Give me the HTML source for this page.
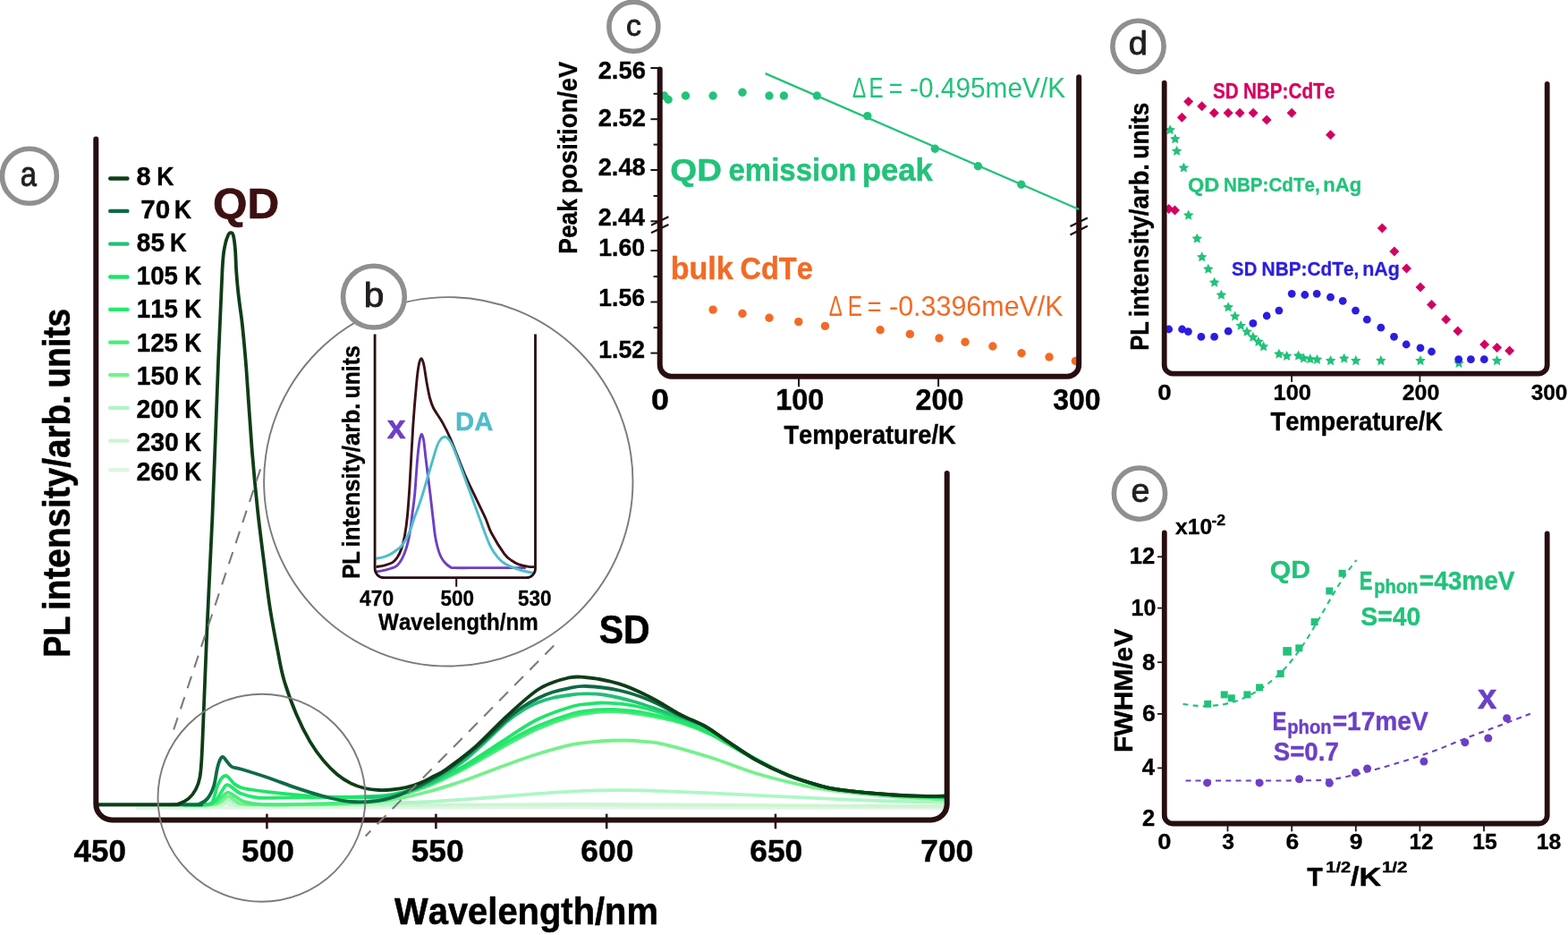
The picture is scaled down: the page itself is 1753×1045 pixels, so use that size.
<!DOCTYPE html>
<html lang="en">
<head>
<meta charset="utf-8">
<title>Temperature dependent photoluminescence</title>
<style>
html,body{margin:0;padding:0;background:#fff;}
body{width:1753px;height:1045px;overflow:hidden;}
svg{display:block;}
svg text{font-family:"Liberation Sans",sans-serif;font-kerning:none;}
</style>
</head>
<body>
<svg width="1753" height="1045" viewBox="0 0 1753 1045">
<rect width="1753" height="1045" fill="#fff"/>
<g id="panel-a">
<g fill="none" stroke-width="3.8" stroke-linejoin="round">
<path d="M152.00,903.20C176.67,903.13 253.67,902.95 300.00,902.80C346.33,902.65 380.00,902.40 430.00,902.30C480.00,902.20 538.33,902.15 600.00,902.20C661.67,902.25 724.00,902.47 800.00,902.60C876.00,902.73 1013.33,902.93 1056.00,903.00" stroke="#e0f6e2"/>
<path d="M200.00,901.20C207.33,901.10 235.00,901.20 244.00,900.60C253.00,900.00 250.67,897.63 254.00,897.60C257.33,897.57 251.33,899.97 264.00,900.40C276.67,900.83 299.00,900.30 330.00,900.20C361.00,900.10 396.67,900.00 450.00,899.80C503.33,899.60 591.67,899.03 650.00,899.00C708.33,898.97 751.67,899.33 800.00,899.60C848.33,899.87 897.33,900.37 940.00,900.60C982.67,900.83 1036.67,900.93 1056.00,901.00" stroke="#cff4d2"/>
<path d="M240.00,899.50C241.33,899.08 245.50,897.88 248.00,897.00C250.50,896.12 252.67,894.20 255.00,894.20C257.33,894.20 259.17,896.17 262.00,897.00C264.83,897.83 260.67,898.82 272.00,899.20C283.33,899.58 308.67,899.40 330.00,899.30C351.33,899.20 376.67,899.07 400.00,898.60C423.33,898.13 446.67,897.60 470.00,896.50C493.33,895.40 518.33,893.55 540.00,892.00C561.67,890.45 581.22,888.55 600.00,887.20C618.78,885.85 636.57,884.57 652.70,883.90C668.83,883.23 682.25,883.15 696.80,883.20C711.35,883.25 723.63,883.67 740.00,884.20C756.37,884.73 775.00,885.50 795.00,886.40C815.00,887.30 835.83,888.45 860.00,889.60C884.17,890.75 916.67,892.32 940.00,893.30C963.33,894.28 980.67,894.92 1000.00,895.50C1019.33,896.08 1046.67,896.58 1056.00,896.80" stroke="#adf6c6"/>
<path d="M205.00,899.40C210.17,899.38 229.17,899.78 236.00,899.30C242.83,898.82 242.83,898.02 246.00,896.50C249.17,894.98 252.00,890.37 255.00,890.20C258.00,890.03 260.67,894.07 264.00,895.50C267.33,896.93 264.00,898.22 275.00,898.80C286.00,899.38 309.17,899.22 330.00,899.00C350.83,898.78 381.67,898.42 400.00,897.50C418.33,896.58 426.67,895.67 440.00,893.50C453.33,891.33 466.67,888.08 480.00,884.50C493.33,880.92 506.67,876.58 520.00,872.00C533.33,867.42 546.67,861.83 560.00,857.00C573.33,852.17 586.67,847.15 600.00,843.00C613.33,838.85 628.33,834.52 640.00,832.10C651.67,829.68 660.53,829.27 670.00,828.50C679.47,827.73 688.47,827.45 696.80,827.50C705.13,827.55 712.25,828.03 720.00,828.80C727.75,829.57 730.80,829.10 743.30,832.10C755.80,835.10 777.78,841.35 795.00,846.80C812.22,852.25 829.38,859.63 846.60,864.80C863.82,869.97 882.73,874.48 898.30,877.80C913.87,881.12 923.05,882.58 940.00,884.70C956.95,886.82 980.67,889.03 1000.00,890.50C1019.33,891.97 1046.67,893.00 1056.00,893.50" stroke="#76f08c"/>
<path d="M205.00,899.40C209.50,899.37 225.67,899.85 232.00,899.20C238.33,898.55 240.00,897.20 243.00,895.50C246.00,893.80 247.98,890.65 250.00,889.00C252.02,887.35 253.10,885.52 255.10,885.60C257.10,885.68 258.98,887.77 262.00,889.50C265.02,891.23 268.08,894.38 273.20,896.00C278.32,897.62 281.57,898.73 292.70,899.20C303.83,899.67 322.12,899.25 340.00,898.80C357.88,898.35 383.33,897.88 400.00,896.50C416.67,895.12 426.67,893.58 440.00,890.50C453.33,887.42 466.67,883.33 480.00,878.00C493.33,872.67 506.67,865.50 520.00,858.50C533.33,851.50 546.67,843.25 560.00,836.00C573.33,828.75 586.67,820.92 600.00,815.00C613.33,809.08 629.17,803.63 640.00,800.50C650.83,797.37 656.67,797.07 665.00,796.20C673.33,795.33 680.83,794.83 690.00,795.30C699.17,795.77 708.33,796.97 720.00,799.00C731.67,801.03 747.50,803.83 760.00,807.50C772.50,811.17 783.33,815.50 795.00,821.00C806.67,826.50 815.67,832.90 830.00,840.50C844.33,848.10 866.75,860.38 881.00,866.60C895.25,872.82 905.67,875.08 915.50,877.80C925.33,880.52 925.92,881.07 940.00,882.90C954.08,884.73 980.67,887.37 1000.00,888.80C1019.33,890.23 1046.67,891.05 1056.00,891.50" stroke="#4aec7b"/>
<path d="M205.00,899.40C209.17,899.37 224.17,899.77 230.00,899.20C235.83,898.63 237.17,898.20 240.00,896.00C242.83,893.80 244.80,889.12 247.00,886.00C249.20,882.88 251.03,878.22 253.20,877.30C255.37,876.38 257.48,878.98 260.00,880.50C262.52,882.02 263.67,884.57 268.30,886.40C272.93,888.23 278.03,890.67 287.80,891.50C297.57,892.33 313.20,891.48 326.90,891.40C340.60,891.32 356.15,891.20 370.00,891.00C383.85,890.80 398.33,890.78 410.00,890.20C421.67,889.62 428.33,889.87 440.00,887.50C451.67,885.13 466.67,881.17 480.00,876.00C493.33,870.83 506.67,863.67 520.00,856.50C533.33,849.33 546.67,840.42 560.00,833.00C573.33,825.58 586.67,817.92 600.00,812.00C613.33,806.08 629.17,800.58 640.00,797.50C650.83,794.42 657.33,794.25 665.00,793.50C672.67,792.75 676.83,792.50 686.00,793.00C695.17,793.50 707.67,794.25 720.00,796.50C732.33,798.75 747.50,802.50 760.00,806.50C772.50,810.50 783.33,814.83 795.00,820.50C806.67,826.17 815.67,832.82 830.00,840.50C844.33,848.18 866.75,860.38 881.00,866.60C895.25,872.82 905.67,875.08 915.50,877.80C925.33,880.52 925.92,881.07 940.00,882.90C954.08,884.73 980.67,887.45 1000.00,888.80C1019.33,890.15 1046.67,890.63 1056.00,891.00" stroke="#27e86d"/>
<path d="M205.00,899.40C208.83,899.37 222.67,899.60 228.00,899.20C233.33,898.80 234.50,900.45 237.00,897.00C239.50,893.55 241.17,883.08 243.00,878.50C244.83,873.92 246.38,871.42 248.00,869.50C249.62,867.58 251.20,866.83 252.70,867.00C254.20,867.17 255.37,868.90 257.00,870.50C258.63,872.10 259.97,874.85 262.50,876.60C265.03,878.35 266.35,879.62 272.20,881.00C278.05,882.38 286.87,883.60 297.60,884.90C308.33,886.20 324.57,887.83 336.60,888.80C348.63,889.77 357.57,890.33 369.80,890.70C382.03,891.07 398.30,891.37 410.00,891.00C421.70,890.63 428.33,891.00 440.00,888.50C451.67,886.00 466.67,881.50 480.00,876.00C493.33,870.50 506.67,863.25 520.00,855.50C533.33,847.75 546.67,838.00 560.00,829.50C573.33,821.00 586.67,811.17 600.00,804.50C613.33,797.83 630.00,792.50 640.00,789.50C650.00,786.50 654.00,787.15 660.00,786.50C666.00,785.85 667.67,785.18 676.00,785.60C684.33,786.02 697.67,786.52 710.00,789.00C722.33,791.48 736.67,795.75 750.00,800.50C763.33,805.25 776.67,810.83 790.00,817.50C803.33,824.17 814.83,832.32 830.00,840.50C845.17,848.68 866.75,860.38 881.00,866.60C895.25,872.82 905.67,875.08 915.50,877.80C925.33,880.52 925.92,881.07 940.00,882.90C954.08,884.73 980.67,887.48 1000.00,888.80C1019.33,890.12 1046.67,890.47 1056.00,890.80" stroke="#1fe469"/>
<path d="M410.00,891.00C415.00,890.58 428.33,891.08 440.00,888.50C451.67,885.92 467.50,881.42 480.00,875.50C492.50,869.58 505.00,860.33 515.00,853.00C525.00,845.67 531.40,839.25 540.00,831.50C548.60,823.75 559.10,812.83 566.60,806.50C574.10,800.17 579.25,797.03 585.00,793.50C590.75,789.97 595.60,787.55 601.10,785.30C606.60,783.05 612.27,781.38 618.00,780.00C623.73,778.62 629.72,777.77 635.50,777.00C641.28,776.23 646.12,775.48 652.70,775.40C659.28,775.32 665.45,774.98 675.00,776.50C684.55,778.02 697.50,780.92 710.00,784.50C722.50,788.08 736.98,793.33 750.00,798.00C763.02,802.67 777.73,807.50 788.10,812.50C798.47,817.50 802.45,821.72 812.20,828.00C821.95,834.28 835.12,843.77 846.60,850.20C858.08,856.63 869.62,862.00 881.10,866.60C892.58,871.20 905.68,875.08 915.50,877.80C925.32,880.52 925.92,881.10 940.00,882.90C954.08,884.70 980.67,887.33 1000.00,888.60C1019.33,889.87 1046.67,890.18 1056.00,890.50" stroke="#21c176"/>
<path d="M108.00,899.30C125.83,899.30 195.83,899.42 215.00,899.30C234.17,899.18 220.13,899.78 223.00,898.60C225.87,897.42 229.53,895.53 232.20,892.20C234.87,888.87 237.22,884.13 239.00,878.60C240.78,873.07 241.75,863.88 242.90,859.00C244.05,854.12 244.83,851.47 245.90,849.30C246.97,847.13 247.85,845.52 249.30,846.00C250.75,846.48 252.90,850.35 254.60,852.20C256.30,854.05 256.93,855.83 259.50,857.10C262.07,858.37 263.15,857.73 270.00,859.80C276.85,861.87 290.38,866.03 300.60,869.50C310.82,872.97 321.08,877.18 331.30,880.60C341.52,884.02 352.95,887.57 361.90,890.00C370.85,892.43 378.65,894.15 385.00,895.20C391.35,896.25 395.00,896.20 400.00,896.30C405.00,896.40 410.00,896.25 415.00,895.80C420.00,895.35 424.82,894.80 430.00,893.60C435.18,892.40 440.55,890.70 446.10,888.60C451.65,886.50 457.65,883.68 463.30,881.00C468.95,878.32 474.25,875.67 480.00,872.50C485.75,869.33 491.97,865.83 497.80,862.00C503.63,858.17 509.27,853.92 515.00,849.50C520.73,845.08 526.37,840.50 532.20,835.50C538.03,830.50 544.27,824.75 550.00,819.50C555.73,814.25 561.10,808.75 566.60,804.00C572.10,799.25 577.25,794.92 583.00,791.00C588.75,787.08 595.27,783.42 601.10,780.50C606.93,777.58 612.27,775.37 618.00,773.50C623.73,771.63 629.33,770.38 635.50,769.30C641.67,768.22 645.63,766.63 655.00,767.00C664.37,767.37 679.85,768.92 691.70,771.50C703.55,774.08 714.63,777.83 726.10,782.50C737.57,787.17 750.17,794.62 760.50,799.50C770.83,804.38 779.48,807.08 788.10,811.80C796.72,816.52 802.45,821.40 812.20,827.80C821.95,834.20 835.12,843.73 846.60,850.20C858.08,856.67 869.62,862.00 881.10,866.60C892.58,871.20 905.68,875.08 915.50,877.80C925.32,880.52 925.92,881.12 940.00,882.90C954.08,884.68 983.33,887.32 1000.00,888.50C1016.67,889.68 1030.67,889.78 1040.00,890.00C1049.33,890.22 1053.33,889.83 1056.00,889.80" stroke="#0e6b45"/>
<path d="M108.00,899.30C121.67,899.30 174.67,899.45 190.00,899.30C205.33,899.15 196.50,899.55 200.00,898.40C203.50,897.25 207.83,895.13 211.00,892.40C214.17,889.67 216.90,886.07 219.00,882.00C221.10,877.93 222.50,874.17 223.60,868.00C224.70,861.83 224.95,856.17 225.60,845.00C226.25,833.83 226.48,825.53 227.50,801.00C228.52,776.47 230.05,734.97 231.70,697.80C233.35,660.63 235.33,627.18 237.40,578.00C239.47,528.82 242.23,449.03 244.10,402.70C245.97,356.37 247.35,321.45 248.60,300.00C249.85,278.55 250.50,280.25 251.60,274.00C252.70,267.75 254.13,264.80 255.20,262.50C256.27,260.20 257.07,260.12 258.00,260.20C258.93,260.28 259.97,259.87 260.80,263.00C261.63,266.13 262.43,272.33 263.00,279.00C263.57,285.67 263.70,295.50 264.20,303.00C264.70,310.50 265.32,317.33 266.00,324.00C266.68,330.67 267.47,336.33 268.30,343.00C269.13,349.67 269.82,352.40 271.00,364.00C272.18,375.60 273.65,389.93 275.40,412.60C277.15,435.27 279.40,473.77 281.50,500.00C283.60,526.23 285.72,548.52 288.00,570.00C290.28,591.48 292.88,610.57 295.20,628.90C297.52,647.23 299.40,663.83 301.90,680.00C304.40,696.17 307.60,712.57 310.20,725.90C312.80,739.23 313.98,747.93 317.50,760.00C321.02,772.07 326.45,786.82 331.30,798.30C336.15,809.78 341.50,820.22 346.60,828.90C351.70,837.58 356.80,844.27 361.90,850.40C367.00,856.53 372.10,861.50 377.20,865.70C382.30,869.90 387.40,873.05 392.50,875.60C397.60,878.15 402.70,879.77 407.80,881.00C412.90,882.23 417.98,882.75 423.10,883.00C428.22,883.25 433.38,882.97 438.50,882.50C443.62,882.03 448.55,881.47 453.80,880.20C459.05,878.93 464.97,876.93 470.00,874.90C475.03,872.87 479.37,870.40 484.00,868.00C488.63,865.60 489.77,866.18 497.80,860.50C505.83,854.82 520.73,843.93 532.20,833.90C543.67,823.87 555.12,810.78 566.60,800.30C578.08,789.82 591.05,777.75 601.10,771.00C611.15,764.25 618.70,762.18 626.90,759.80C635.10,757.42 639.50,755.98 650.30,756.70C661.10,757.42 679.07,760.43 691.70,764.10C704.33,767.77 714.63,772.97 726.10,778.70C737.57,784.43 750.17,793.03 760.50,798.50C770.83,803.97 779.48,806.62 788.10,811.50C796.72,816.38 802.45,821.35 812.20,827.80C821.95,834.25 835.12,843.73 846.60,850.20C858.08,856.67 869.62,862.00 881.10,866.60C892.58,871.20 905.68,875.08 915.50,877.80C925.32,880.52 925.92,881.12 940.00,882.90C954.08,884.68 983.33,887.32 1000.00,888.50C1016.67,889.68 1030.67,889.83 1040.00,890.00C1049.33,890.17 1053.33,889.58 1056.00,889.50" stroke="#0f3d18"/>
</g>
<path d="M107.3,155.4V898.4a18,18 0 0 0 18,18H1040.7a18,18 0 0 0 18,-18V529" fill="none" stroke="#270e10" stroke-width="6" stroke-linecap="round"/>
<path d="M298.4,909.6V926.3" stroke="#270e10" stroke-width="2.5"/>
<path d="M487.4,909.6V926.3" stroke="#270e10" stroke-width="2.5"/>
<path d="M678.2,909.6V926.3" stroke="#270e10" stroke-width="2.5"/>
<path d="M867.0,909.6V926.3" stroke="#270e10" stroke-width="2.5"/>
<text font-weight="bold" fill="#000" stroke="#000" stroke-width="0.45" stroke-linejoin="round"><tspan x="82.57" y="962.80" font-size="34.81" textLength="58.36" lengthAdjust="spacingAndGlyphs">450</tspan></text>
<text font-weight="bold" fill="#000" stroke="#000" stroke-width="0.45" stroke-linejoin="round"><tspan x="270.01" y="962.80" font-size="34.81" textLength="58.94" lengthAdjust="spacingAndGlyphs">500</tspan></text>
<text font-weight="bold" fill="#000" stroke="#000" stroke-width="0.45" stroke-linejoin="round"><tspan x="459.71" y="962.80" font-size="34.81" textLength="58.94" lengthAdjust="spacingAndGlyphs">550</tspan></text>
<text font-weight="bold" fill="#000" stroke="#000" stroke-width="0.45" stroke-linejoin="round"><tspan x="649.30" y="962.80" font-size="34.81" textLength="59.15" lengthAdjust="spacingAndGlyphs">600</tspan></text>
<text font-weight="bold" fill="#000" stroke="#000" stroke-width="0.45" stroke-linejoin="round"><tspan x="838.20" y="962.80" font-size="34.81" textLength="59.15" lengthAdjust="spacingAndGlyphs">650</tspan></text>
<text font-weight="bold" fill="#000" stroke="#000" stroke-width="0.45" stroke-linejoin="round"><tspan x="1029.28" y="962.80" font-size="34.81" textLength="58.97" lengthAdjust="spacingAndGlyphs">700</tspan></text>
<text font-weight="bold" fill="#000" stroke="#000" stroke-width="0.55" stroke-linejoin="round"><tspan x="441.06" y="1032.90" font-size="42.59" textLength="294.91" lengthAdjust="spacingAndGlyphs">Wavelength/nm</tspan></text>
<text transform="translate(78.00,0) rotate(-90)" font-weight="bold" fill="#000" stroke="#000" stroke-width="0.54" stroke-linejoin="round"><tspan x="-734.71" y="0.00" font-size="41.72" textLength="56.02" lengthAdjust="spacingAndGlyphs">PL </tspan><tspan x="-681.90" y="0.00" font-size="41.72" textLength="251.51" lengthAdjust="spacingAndGlyphs">intensity/arb. </tspan><tspan x="-433.40" y="0.00" font-size="41.72" textLength="88.62" lengthAdjust="spacingAndGlyphs">units</tspan></text>
<text font-weight="bold" fill="#3c1012" stroke="#3c1012" stroke-width="0.63" stroke-linejoin="round"><tspan x="237.97" y="243.90" font-size="48.40" textLength="74.10" lengthAdjust="spacingAndGlyphs">QD</tspan></text>
<text font-weight="bold" fill="#000" stroke="#000" stroke-width="0.57" stroke-linejoin="round"><tspan x="669.72" y="718.90" font-size="44.19" textLength="56.90" lengthAdjust="spacingAndGlyphs">SD</tspan></text>
<g fill="none" stroke="#7b7b7b" stroke-width="1.9">
<circle cx="292.5" cy="891.8" r="116"/>
<circle cx="501.3" cy="538.3" r="206.2"/>
<path d="M291.1,524.4L194.2,815.5" stroke-dasharray="14 10.4" stroke-width="2.1"/>
<path d="M619.2,721.5L408.7,934.4" stroke-dasharray="14 10.27" stroke-width="2.1"/>
</g>
<path d="M123.2,199.5H142.4" stroke="#0f3d18" stroke-width="4.4" stroke-linecap="round"/>
<text font-weight="bold" fill="#000" stroke="#000" stroke-width="0.38" stroke-linejoin="round"><tspan x="152.58" y="207.20" font-size="29.23" textLength="24.16" lengthAdjust="spacingAndGlyphs">8 </tspan><tspan x="175.22" y="207.20" font-size="29.22" textLength="19.23" lengthAdjust="spacingAndGlyphs">K</tspan></text>
<path d="M123.2,235.9H142.4" stroke="#0e6b45" stroke-width="4.4" stroke-linecap="round"/>
<text font-weight="bold" fill="#000" stroke="#000" stroke-width="0.38" stroke-linejoin="round"><tspan x="157.33" y="244.00" font-size="29.23" textLength="41.23" lengthAdjust="spacingAndGlyphs">70 </tspan><tspan x="194.71" y="244.00" font-size="29.22" textLength="19.34" lengthAdjust="spacingAndGlyphs">K</tspan></text>
<path d="M123.2,272.6H142.4" stroke="#21c176" stroke-width="4.4" stroke-linecap="round"/>
<text font-weight="bold" fill="#000" stroke="#000" stroke-width="0.38" stroke-linejoin="round"><tspan x="152.81" y="281.00" font-size="29.23" textLength="38.95" lengthAdjust="spacingAndGlyphs">85 </tspan><tspan x="190.07" y="281.00" font-size="29.22" textLength="18.67" lengthAdjust="spacingAndGlyphs">K</tspan></text>
<path d="M123.2,309.5H142.4" stroke="#1fe469" stroke-width="4.4" stroke-linecap="round"/>
<text font-weight="bold" fill="#000" stroke="#000" stroke-width="0.38" stroke-linejoin="round"><tspan x="152.76" y="318.00" font-size="29.23" textLength="53.91" lengthAdjust="spacingAndGlyphs">105 </tspan><tspan x="206.14" y="318.00" font-size="29.22" textLength="19.00" lengthAdjust="spacingAndGlyphs">K</tspan></text>
<path d="M123.2,345.9H142.4" stroke="#27e86d" stroke-width="4.4" stroke-linecap="round"/>
<text font-weight="bold" fill="#000" stroke="#000" stroke-width="0.38" stroke-linejoin="round"><tspan x="152.76" y="354.70" font-size="29.23" textLength="53.91" lengthAdjust="spacingAndGlyphs">115 </tspan><tspan x="206.14" y="354.70" font-size="29.22" textLength="19.00" lengthAdjust="spacingAndGlyphs">K</tspan></text>
<path d="M123.2,382.6H142.4" stroke="#4aec7b" stroke-width="4.4" stroke-linecap="round"/>
<text font-weight="bold" fill="#000" stroke="#000" stroke-width="0.38" stroke-linejoin="round"><tspan x="152.76" y="392.70" font-size="29.23" textLength="53.91" lengthAdjust="spacingAndGlyphs">125 </tspan><tspan x="206.14" y="392.70" font-size="29.22" textLength="19.00" lengthAdjust="spacingAndGlyphs">K</tspan></text>
<path d="M123.2,419.1H142.4" stroke="#76f08c" stroke-width="4.4" stroke-linecap="round"/>
<text font-weight="bold" fill="#000" stroke="#000" stroke-width="0.38" stroke-linejoin="round"><tspan x="152.72" y="429.70" font-size="29.23" textLength="54.99" lengthAdjust="spacingAndGlyphs">150 </tspan><tspan x="206.14" y="429.70" font-size="29.22" textLength="19.00" lengthAdjust="spacingAndGlyphs">K</tspan></text>
<path d="M123.2,455.9H142.4" stroke="#adf6c6" stroke-width="4.4" stroke-linecap="round"/>
<text font-weight="bold" fill="#000" stroke="#000" stroke-width="0.38" stroke-linejoin="round"><tspan x="152.41" y="466.80" font-size="29.23" textLength="55.35" lengthAdjust="spacingAndGlyphs">200 </tspan><tspan x="206.14" y="466.80" font-size="29.22" textLength="19.00" lengthAdjust="spacingAndGlyphs">K</tspan></text>
<path d="M123.2,492.6H142.4" stroke="#cff4d2" stroke-width="4.4" stroke-linecap="round"/>
<text font-weight="bold" fill="#000" stroke="#000" stroke-width="0.38" stroke-linejoin="round"><tspan x="152.41" y="503.90" font-size="29.23" textLength="55.35" lengthAdjust="spacingAndGlyphs">230 </tspan><tspan x="206.14" y="503.90" font-size="29.22" textLength="19.00" lengthAdjust="spacingAndGlyphs">K</tspan></text>
<path d="M123.2,525.3H142.4" stroke="#e0f6e2" stroke-width="4.4" stroke-linecap="round"/>
<text font-weight="bold" fill="#000" stroke="#000" stroke-width="0.38" stroke-linejoin="round"><tspan x="152.41" y="536.60" font-size="29.23" textLength="55.35" lengthAdjust="spacingAndGlyphs">260 </tspan><tspan x="206.14" y="536.60" font-size="29.22" textLength="19.00" lengthAdjust="spacingAndGlyphs">K</tspan></text>
<circle cx="32.9" cy="196.8" r="30.5" fill="#fff" stroke="#8f8f8f" stroke-width="5.6"/>
<text font-weight="normal" fill="#231f20" stroke="#231f20" stroke-width="0.9" stroke-linejoin="round"><tspan x="22.71" y="208.00" font-size="37.88" textLength="18.19" lengthAdjust="spacingAndGlyphs">a</tspan></text>
</g>
<g id="panel-b">
<g fill="none" stroke-width="2.9" stroke-linejoin="round">
<path d="M420.50,639.00C422.42,638.63 428.45,637.70 432.00,636.80C435.55,635.90 439.30,634.98 441.80,633.60C444.30,632.22 445.30,630.93 447.00,628.50C448.70,626.07 450.48,622.77 452.00,619.00C453.52,615.23 454.93,610.73 456.10,605.90C457.27,601.07 458.20,595.15 459.00,590.00C459.80,584.85 460.12,581.30 460.90,575.00C461.68,568.70 462.75,562.38 463.70,552.20C464.65,542.02 465.72,523.77 466.60,513.90C467.48,504.03 468.20,497.78 469.00,493.00C469.80,488.22 470.60,485.20 471.40,485.20C472.20,485.20 473.00,488.22 473.80,493.00C474.60,497.78 475.00,504.03 476.20,513.90C477.40,523.77 479.67,541.18 481.00,552.20C482.33,563.22 483.28,572.20 484.20,580.00C485.12,587.80 485.70,593.83 486.50,599.00C487.30,604.17 488.08,607.47 489.00,611.00C489.92,614.53 490.92,617.62 492.00,620.20C493.08,622.78 494.30,624.77 495.50,626.50C496.70,628.23 497.95,629.45 499.20,630.60C500.45,631.75 501.53,632.73 503.00,633.40C504.47,634.07 501.83,634.40 508.00,634.60C514.17,634.80 526.67,634.60 540.00,634.60C553.33,634.60 580.00,634.60 588.00,634.60" stroke="#6b40c6"/>
<path d="M420.50,633.60C422.08,633.30 426.93,632.63 430.00,631.80C433.07,630.97 436.48,630.15 438.90,628.60C441.32,627.05 442.83,625.10 444.50,622.50C446.17,619.90 447.55,617.08 448.90,613.00C450.25,608.92 451.52,604.00 452.60,598.00C453.68,592.00 454.50,586.23 455.40,577.00C456.30,567.77 456.93,559.48 458.00,542.60C459.07,525.72 460.52,494.83 461.80,475.70C463.08,456.57 464.62,439.17 465.70,427.80C466.78,416.43 467.42,412.03 468.30,407.50C469.18,402.97 470.08,400.60 471.00,400.60C471.92,400.60 472.78,402.97 473.80,407.50C474.82,412.03 475.97,421.55 477.10,427.80C478.23,434.05 479.32,440.22 480.60,445.00C481.88,449.78 482.50,452.03 484.80,456.50C487.10,460.97 491.22,466.05 494.40,471.80C497.58,477.55 499.77,481.43 503.90,491.00C508.03,500.57 514.42,518.05 519.20,529.20C523.98,540.35 528.62,549.43 532.60,557.90C536.58,566.37 540.30,573.68 543.10,580.00C545.90,586.32 545.97,589.33 549.40,595.80C552.83,602.27 559.93,613.68 563.70,618.80C567.47,623.92 569.28,624.50 572.00,626.50C574.72,628.50 576.83,629.65 580.00,630.80C583.17,631.95 588.08,632.93 591.00,633.40C593.92,633.87 596.42,633.57 597.50,633.60" stroke="#3a1215"/>
<path d="M420.50,624.30C421.75,624.05 425.65,623.45 428.00,622.80C430.35,622.15 432.35,621.50 434.60,620.40C436.85,619.30 439.12,617.90 441.50,616.20C443.88,614.50 446.82,612.48 448.90,610.20C450.98,607.92 452.32,605.62 454.00,602.50C455.68,599.38 457.53,595.25 459.00,591.50C460.47,587.75 460.73,585.92 462.80,580.00C464.87,574.08 468.37,565.42 471.40,556.00C474.43,546.58 478.13,533.07 481.00,523.50C483.87,513.93 486.60,504.10 488.60,498.60C490.60,493.10 491.47,492.22 493.00,490.50C494.53,488.78 496.22,488.05 497.80,488.30C499.38,488.55 500.85,489.65 502.50,492.00C504.15,494.35 504.92,495.57 507.70,502.40C510.48,509.23 514.42,520.07 519.20,533.00C523.98,545.93 532.57,569.53 536.40,580.00C540.23,590.47 540.10,590.47 542.20,595.80C544.30,601.13 546.60,607.45 549.00,612.00C551.40,616.55 554.27,620.27 556.60,623.10C558.93,625.93 560.62,627.33 563.00,629.00C565.38,630.67 567.57,631.68 570.90,633.10C574.23,634.52 578.73,636.27 583.00,637.50C587.27,638.73 594.25,640.00 596.50,640.50" stroke="#4fbccb"/>
</g>
<path d="M419.1,373.5V635.6a10,10 0 0 0 10,10H588.5a10,10 0 0 0 10,-10V373.5" fill="none" stroke="#270e10" stroke-width="2.8"/>
<path d="M510.2,645.6V655.8" stroke="#270e10" stroke-width="2"/>
<text font-weight="bold" fill="#000" stroke="#000" stroke-width="0.30" stroke-linejoin="round"><tspan x="401.95" y="677.00" font-size="23.07" textLength="38.19" lengthAdjust="spacingAndGlyphs">470</tspan></text>
<text font-weight="bold" fill="#000" stroke="#000" stroke-width="0.30" stroke-linejoin="round"><tspan x="492.41" y="677.00" font-size="23.07" textLength="37.51" lengthAdjust="spacingAndGlyphs">500</tspan></text>
<text font-weight="bold" fill="#000" stroke="#000" stroke-width="0.30" stroke-linejoin="round"><tspan x="579.11" y="677.00" font-size="23.07" textLength="37.51" lengthAdjust="spacingAndGlyphs">530</tspan></text>
<text font-weight="bold" fill="#000" stroke="#000" stroke-width="0.33" stroke-linejoin="round"><tspan x="423.08" y="703.90" font-size="25.58" textLength="178.72" lengthAdjust="spacingAndGlyphs">Wavelength/nm</tspan></text>
<text transform="translate(402.10,0) rotate(-90)" font-weight="bold" fill="#000" stroke="#000" stroke-width="0.36" stroke-linejoin="round"><tspan x="-646.81" y="0.00" font-size="27.62" textLength="37.44" lengthAdjust="spacingAndGlyphs">PL </tspan><tspan x="-611.50" y="0.00" font-size="27.62" textLength="168.07" lengthAdjust="spacingAndGlyphs">intensity/arb. </tspan><tspan x="-445.44" y="0.00" font-size="27.62" textLength="59.26" lengthAdjust="spacingAndGlyphs">units</tspan></text>
<text font-weight="bold" fill="#6b40c6" stroke="#6b40c6" stroke-width="0.48" stroke-linejoin="round"><tspan x="432.74" y="489.80" font-size="36.74" textLength="20.83" lengthAdjust="spacingAndGlyphs">x</tspan></text>
<text font-weight="bold" fill="#4fbccb" stroke="#4fbccb" stroke-width="0.39" stroke-linejoin="round"><tspan x="509.04" y="480.80" font-size="30.09" textLength="42.33" lengthAdjust="spacingAndGlyphs">DA</tspan></text>
<circle cx="417.9" cy="331.6" r="34.4" fill="#fff" stroke="#8f8f8f" stroke-width="5.6"/>
<text font-weight="normal" fill="#231f20" stroke="#231f20" stroke-width="0.9" stroke-linejoin="round"><tspan x="406.78" y="342.70" font-size="38.50" textLength="22.63" lengthAdjust="spacingAndGlyphs">b</tspan></text>
</g>
<g id="panel-c">
<g fill="#22c27a">
<circle cx="742.6" cy="107.0" r="4.7"/>
<circle cx="747.1" cy="111.3" r="4.7"/>
<circle cx="766.5" cy="107.0" r="4.7"/>
<circle cx="797.1" cy="107.0" r="4.7"/>
<circle cx="830.0" cy="103.2" r="4.7"/>
<circle cx="860.0" cy="107.0" r="4.7"/>
<circle cx="876.4" cy="107.0" r="4.7"/>
<circle cx="913.3" cy="107.0" r="4.7"/>
<circle cx="969.8" cy="129.6" r="4.7"/>
<circle cx="1045.3" cy="166.3" r="4.7"/>
<circle cx="1093.5" cy="185.7" r="4.7"/>
<circle cx="1141.8" cy="206.3" r="4.7"/>
</g>
<g fill="#f26a25">
<circle cx="797.1" cy="346.1" r="4.7"/>
<circle cx="830.0" cy="350.5" r="4.7"/>
<circle cx="860.0" cy="355.2" r="4.7"/>
<circle cx="892.8" cy="359.6" r="4.7"/>
<circle cx="922.4" cy="364.4" r="4.7"/>
<circle cx="984.1" cy="368.7" r="4.7"/>
<circle cx="1017.3" cy="373.4" r="4.7"/>
<circle cx="1050.0" cy="378.0" r="4.7"/>
<circle cx="1079.0" cy="382.2" r="4.7"/>
<circle cx="1109.9" cy="387.0" r="4.7"/>
<circle cx="1142.0" cy="394.7" r="4.7"/>
<circle cx="1173.0" cy="399.0" r="4.7"/>
<circle cx="1202.4" cy="403.5" r="4.7"/>
</g>
<path d="M737.7,77.6V407.7a13,13 0 0 0 13,13H1193.2a13,13 0 0 0 13,-13V86.3" fill="none" stroke="#270e10" stroke-width="6" stroke-linecap="round"/>
<path d="M855.6,82.1L1206.2,234" stroke="#22c27a" stroke-width="2.3" fill="none"/>
<g stroke="#270e10" stroke-width="2" fill="none">
<path d="M727.4,76.0H737"/>
<path d="M727.4,133.2H737"/>
<path d="M727.4,190.0H737"/>
<path d="M727.4,247.3H737"/>
<path d="M727.4,280.1H737"/>
<path d="M727.4,337.5H737"/>
<path d="M727.4,394.6H737"/>
<path d="M730.6,104.8H737"/>
<path d="M730.6,161.6H737"/>
<path d="M730.6,219.0H737"/>
<path d="M730.6,309.1H737"/>
<path d="M730.6,366.2H737"/>
<path d="M893.0,421V432.2" stroke-width="2"/>
<path d="M1049.1,421V432.2" stroke-width="2"/>
<path d="M728,251.7L747.4,242.2M728,260.3L747.4,251" stroke-width="2.2"/>
<path d="M1196.5,253L1215.9,243.5M1196.5,262.4L1215.9,252.6" stroke-width="2.2"/>
</g>
<text font-weight="bold" fill="#000" stroke="#000" stroke-width="0.35" stroke-linejoin="round"><tspan x="668.65" y="87.50" font-size="27.08" textLength="53.24" lengthAdjust="spacingAndGlyphs">2.56</tspan></text>
<text font-weight="bold" fill="#000" stroke="#000" stroke-width="0.35" stroke-linejoin="round"><tspan x="668.65" y="140.60" font-size="27.08" textLength="53.35" lengthAdjust="spacingAndGlyphs">2.52</tspan></text>
<text font-weight="bold" fill="#000" stroke="#000" stroke-width="0.35" stroke-linejoin="round"><tspan x="668.65" y="195.70" font-size="27.08" textLength="53.08" lengthAdjust="spacingAndGlyphs">2.48</tspan></text>
<text font-weight="bold" fill="#000" stroke="#000" stroke-width="0.35" stroke-linejoin="round"><tspan x="668.67" y="252.00" font-size="27.08" textLength="52.38" lengthAdjust="spacingAndGlyphs">2.44</tspan></text>
<text font-weight="bold" fill="#000" stroke="#000" stroke-width="0.35" stroke-linejoin="round"><tspan x="669.32" y="285.80" font-size="27.08" textLength="51.77" lengthAdjust="spacingAndGlyphs">1.60</tspan></text>
<text font-weight="bold" fill="#000" stroke="#000" stroke-width="0.35" stroke-linejoin="round"><tspan x="669.33" y="342.10" font-size="27.08" textLength="51.63" lengthAdjust="spacingAndGlyphs">1.56</tspan></text>
<text font-weight="bold" fill="#000" stroke="#000" stroke-width="0.35" stroke-linejoin="round"><tspan x="669.33" y="399.90" font-size="27.08" textLength="51.74" lengthAdjust="spacingAndGlyphs">1.52</tspan></text>
<text font-weight="bold" fill="#000" stroke="#000" stroke-width="0.43" stroke-linejoin="round"><tspan x="727.99" y="457.70" font-size="32.81" textLength="19.88" lengthAdjust="spacingAndGlyphs">0</tspan></text>
<text font-weight="bold" fill="#000" stroke="#000" stroke-width="0.43" stroke-linejoin="round"><tspan x="867.26" y="457.70" font-size="32.81" textLength="53.96" lengthAdjust="spacingAndGlyphs">100</tspan></text>
<text font-weight="bold" fill="#000" stroke="#000" stroke-width="0.43" stroke-linejoin="round"><tspan x="1023.58" y="457.70" font-size="32.81" textLength="53.84" lengthAdjust="spacingAndGlyphs">200</tspan></text>
<text font-weight="bold" fill="#000" stroke="#000" stroke-width="0.43" stroke-linejoin="round"><tspan x="1177.27" y="457.70" font-size="32.81" textLength="53.24" lengthAdjust="spacingAndGlyphs">300</tspan></text>
<text font-weight="bold" fill="#000" stroke="#000" stroke-width="0.39" stroke-linejoin="round"><tspan x="876.49" y="496.00" font-size="29.80" textLength="192.26" lengthAdjust="spacingAndGlyphs">Temperature/K</tspan></text>
<text transform="translate(645.00,0) rotate(-90)" font-weight="bold" fill="#000" stroke="#000" stroke-width="0.39" stroke-linejoin="round"><tspan x="-283.66" y="0.00" font-size="30.23" textLength="68.74" lengthAdjust="spacingAndGlyphs">Peak </tspan><tspan x="-216.51" y="0.00" font-size="30.23" textLength="147.90" lengthAdjust="spacingAndGlyphs">position/eV</tspan></text>
<text font-weight="bold" fill="#22c27a" stroke="#22c27a" stroke-width="0.46" stroke-linejoin="round"><tspan x="749.32" y="201.60" font-size="35.32" textLength="68.38" lengthAdjust="spacingAndGlyphs">QD </tspan><tspan x="814.51" y="201.60" font-size="35.32" textLength="152.09" lengthAdjust="spacingAndGlyphs">emission </tspan><tspan x="963.71" y="201.60" font-size="35.32" textLength="79.26" lengthAdjust="spacingAndGlyphs">peak</tspan></text>
<text font-weight="bold" fill="#f26a25" stroke="#f26a25" stroke-width="0.46" stroke-linejoin="round"><tspan x="749.65" y="312.00" font-size="35.76" textLength="79.59" lengthAdjust="spacingAndGlyphs">bulk </tspan><tspan x="827.57" y="312.00" font-size="35.76" textLength="81.14" lengthAdjust="spacingAndGlyphs">CdTe</tspan></text>
<text font-weight="normal" fill="#22c27a"><tspan x="952.92" y="108.70" font-size="30.52" textLength="15.27" lengthAdjust="spacingAndGlyphs">Δ</tspan><tspan x="971.52" y="108.70" font-size="30.52" textLength="22.84" lengthAdjust="spacingAndGlyphs">E </tspan><tspan x="993.81" y="108.70" font-size="30.52" textLength="22.71" lengthAdjust="spacingAndGlyphs">= </tspan><tspan x="1016.97" y="108.70" font-size="30.52" textLength="174.16" lengthAdjust="spacingAndGlyphs">-0.495meV/K</tspan></text>
<text font-weight="normal" fill="#f26a25"><tspan x="926.63" y="352.50" font-size="30.52" textLength="21.31" lengthAdjust="spacingAndGlyphs">Δ </tspan><tspan x="947.70" y="352.50" font-size="30.52" textLength="23.01" lengthAdjust="spacingAndGlyphs">E </tspan><tspan x="969.77" y="352.50" font-size="30.52" textLength="23.42" lengthAdjust="spacingAndGlyphs">= </tspan><tspan x="994.05" y="352.50" font-size="30.52" textLength="194.59" lengthAdjust="spacingAndGlyphs">-0.3396meV/K</tspan></text>
<circle cx="708.4" cy="29.7" r="27.5" fill="#fff" stroke="#8f8f8f" stroke-width="5.6"/>
<text font-weight="normal" fill="#231f20" stroke="#231f20" stroke-width="0.9" stroke-linejoin="round"><tspan x="700.06" y="39.50" font-size="33.33" textLength="16.93" lengthAdjust="spacingAndGlyphs">c</tspan></text>
</g>
<g id="panel-d">
<g fill="#22c27a">
<polygon points="1308.20,139.20 1309.96,142.87 1314.00,143.41 1311.05,146.23 1311.79,150.24 1308.20,148.30 1304.61,150.24 1305.35,146.23 1302.40,143.41 1306.44,142.87"/>
<polygon points="1313.80,149.30 1315.56,152.97 1319.60,153.51 1316.65,156.33 1317.39,160.34 1313.80,158.40 1310.21,160.34 1310.95,156.33 1308.00,153.51 1312.04,152.97"/>
<polygon points="1315.60,162.80 1317.36,166.47 1321.40,167.01 1318.45,169.83 1319.19,173.84 1315.60,171.90 1312.01,173.84 1312.75,169.83 1309.80,167.01 1313.84,166.47"/>
<polygon points="1323.40,181.50 1325.16,185.17 1329.20,185.71 1326.25,188.53 1326.99,192.54 1323.40,190.60 1319.81,192.54 1320.55,188.53 1317.60,185.71 1321.64,185.17"/>
<polygon points="1328.70,234.60 1330.46,238.27 1334.50,238.81 1331.55,241.63 1332.29,245.64 1328.70,243.70 1325.11,245.64 1325.85,241.63 1322.90,238.81 1326.94,238.27"/>
<polygon points="1338.30,260.70 1340.06,264.37 1344.10,264.91 1341.15,267.73 1341.89,271.74 1338.30,269.80 1334.71,271.74 1335.45,267.73 1332.50,264.91 1336.54,264.37"/>
<polygon points="1343.70,281.30 1345.46,284.97 1349.50,285.51 1346.55,288.33 1347.29,292.34 1343.70,290.40 1340.11,292.34 1340.85,288.33 1337.90,285.51 1341.94,284.97"/>
<polygon points="1350.80,294.70 1352.56,298.37 1356.60,298.91 1353.65,301.73 1354.39,305.74 1350.80,303.80 1347.21,305.74 1347.95,301.73 1345.00,298.91 1349.04,298.37"/>
<polygon points="1357.70,309.70 1359.46,313.37 1363.50,313.91 1360.55,316.73 1361.29,320.74 1357.70,318.80 1354.11,320.74 1354.85,316.73 1351.90,313.91 1355.94,313.37"/>
<polygon points="1365.40,323.70 1367.16,327.37 1371.20,327.91 1368.25,330.73 1368.99,334.74 1365.40,332.80 1361.81,334.74 1362.55,330.73 1359.60,327.91 1363.64,327.37"/>
<polygon points="1373.20,337.40 1374.96,341.07 1379.00,341.61 1376.05,344.43 1376.79,348.44 1373.20,346.50 1369.61,348.44 1370.35,344.43 1367.40,341.61 1371.44,341.07"/>
<polygon points="1380.70,347.50 1382.46,351.17 1386.50,351.71 1383.55,354.53 1384.29,358.54 1380.70,356.60 1377.11,358.54 1377.85,354.53 1374.90,351.71 1378.94,351.17"/>
<polygon points="1387.20,358.00 1388.96,361.67 1393.00,362.21 1390.05,365.03 1390.79,369.04 1387.20,367.10 1383.61,369.04 1384.35,365.03 1381.40,362.21 1385.44,361.67"/>
<polygon points="1394.10,364.80 1395.86,368.47 1399.90,369.01 1396.95,371.83 1397.69,375.84 1394.10,373.90 1390.51,375.84 1391.25,371.83 1388.30,369.01 1392.34,368.47"/>
<polygon points="1400.90,370.80 1402.66,374.47 1406.70,375.01 1403.75,377.83 1404.49,381.84 1400.90,379.90 1397.31,381.84 1398.05,377.83 1395.10,375.01 1399.14,374.47"/>
<polygon points="1406.90,375.90 1408.66,379.57 1412.70,380.11 1409.75,382.93 1410.49,386.94 1406.90,385.00 1403.31,386.94 1404.05,382.93 1401.10,380.11 1405.14,379.57"/>
<polygon points="1412.60,381.30 1414.36,384.97 1418.40,385.51 1415.45,388.33 1416.19,392.34 1412.60,390.40 1409.01,392.34 1409.75,388.33 1406.80,385.51 1410.84,384.97"/>
<polygon points="1429.90,389.70 1431.66,393.37 1435.70,393.91 1432.75,396.73 1433.49,400.74 1429.90,398.80 1426.31,400.74 1427.05,396.73 1424.10,393.91 1428.14,393.37"/>
<polygon points="1438.60,391.90 1440.36,395.57 1444.40,396.11 1441.45,398.93 1442.19,402.94 1438.60,401.00 1435.01,402.94 1435.75,398.93 1432.80,396.11 1436.84,395.57"/>
<polygon points="1451.60,391.60 1453.36,395.27 1457.40,395.81 1454.45,398.63 1455.19,402.64 1451.60,400.70 1448.01,402.64 1448.75,398.63 1445.80,395.81 1449.84,395.27"/>
<polygon points="1457.40,394.40 1459.16,398.07 1463.20,398.61 1460.25,401.43 1460.99,405.44 1457.40,403.50 1453.81,405.44 1454.55,401.43 1451.60,398.61 1455.64,398.07"/>
<polygon points="1464.80,395.30 1466.56,398.97 1470.60,399.51 1467.65,402.33 1468.39,406.34 1464.80,404.40 1461.21,406.34 1461.95,402.33 1459.00,399.51 1463.04,398.97"/>
<polygon points="1472.50,395.90 1474.26,399.57 1478.30,400.11 1475.35,402.93 1476.09,406.94 1472.50,405.00 1468.91,406.94 1469.65,402.93 1466.70,400.11 1470.74,399.57"/>
<polygon points="1487.60,397.10 1489.36,400.77 1493.40,401.31 1490.45,404.13 1491.19,408.14 1487.60,406.20 1484.01,408.14 1484.75,404.13 1481.80,401.31 1485.84,400.77"/>
<polygon points="1502.70,394.70 1504.46,398.37 1508.50,398.91 1505.55,401.73 1506.29,405.74 1502.70,403.80 1499.11,405.74 1499.85,401.73 1496.90,398.91 1500.94,398.37"/>
<polygon points="1515.80,397.10 1517.56,400.77 1521.60,401.31 1518.65,404.13 1519.39,408.14 1515.80,406.20 1512.21,408.14 1512.95,404.13 1510.00,401.31 1514.04,400.77"/>
<polygon points="1543.80,397.10 1545.56,400.77 1549.60,401.31 1546.65,404.13 1547.39,408.14 1543.80,406.20 1540.21,408.14 1540.95,404.13 1538.00,401.31 1542.04,400.77"/>
<polygon points="1588.00,397.10 1589.76,400.77 1593.80,401.31 1590.85,404.13 1591.59,408.14 1588.00,406.20 1584.41,408.14 1585.15,404.13 1582.20,401.31 1586.24,400.77"/>
<polygon points="1631.00,400.00 1632.76,403.67 1636.80,404.21 1633.85,407.03 1634.59,411.04 1631.00,409.10 1627.41,411.04 1628.15,407.03 1625.20,404.21 1629.24,403.67"/>
<polygon points="1673.60,397.10 1675.36,400.77 1679.40,401.31 1676.45,404.13 1677.19,408.14 1673.60,406.20 1670.01,408.14 1670.75,404.13 1667.80,401.31 1671.84,400.77"/>
</g>
<g fill="#2b1ddf">
<circle cx="1306.7" cy="368.0" r="4.4"/>
<circle cx="1321.6" cy="368.0" r="4.4"/>
<circle cx="1328.4" cy="370.6" r="4.4"/>
<circle cx="1342.9" cy="376.4" r="4.4"/>
<circle cx="1357.6" cy="376.4" r="4.4"/>
<circle cx="1373.2" cy="370.2" r="4.4"/>
<circle cx="1400.9" cy="361.4" r="4.4"/>
<circle cx="1416.2" cy="353.0" r="4.4"/>
<circle cx="1429.9" cy="347.1" r="4.4"/>
<circle cx="1444.2" cy="328.3" r="4.4"/>
<circle cx="1458.8" cy="329.5" r="4.4"/>
<circle cx="1472.2" cy="328.3" r="4.4"/>
<circle cx="1487.5" cy="332.2" r="4.4"/>
<circle cx="1501.2" cy="336.3" r="4.4"/>
<circle cx="1515.5" cy="347.1" r="4.4"/>
<circle cx="1528.3" cy="357.2" r="4.4"/>
<circle cx="1543.8" cy="366.2" r="4.4"/>
<circle cx="1558.5" cy="376.3" r="4.4"/>
<circle cx="1572.2" cy="385.0" r="4.4"/>
<circle cx="1588.0" cy="388.8" r="4.4"/>
<circle cx="1600.5" cy="393.0" r="4.4"/>
<circle cx="1630.7" cy="401.7" r="4.4"/>
<circle cx="1644.4" cy="401.7" r="4.4"/>
<circle cx="1659.3" cy="401.7" r="4.4"/>
</g>
<g fill="#d4005f">
<polygon points="1306.70,228.10 1312.20,233.60 1306.70,239.10 1301.20,233.60"/>
<polygon points="1313.50,229.50 1319.00,235.00 1313.50,240.50 1308.00,235.00"/>
<polygon points="1321.40,125.80 1326.90,131.30 1321.40,136.80 1315.90,131.30"/>
<polygon points="1328.70,107.90 1334.20,113.40 1328.70,118.90 1323.20,113.40"/>
<polygon points="1343.70,113.20 1349.20,118.70 1343.70,124.20 1338.20,118.70"/>
<polygon points="1357.40,120.80 1362.90,126.30 1357.40,131.80 1351.90,126.30"/>
<polygon points="1373.10,120.80 1378.60,126.30 1373.10,131.80 1367.60,126.30"/>
<polygon points="1386.10,120.80 1391.60,126.30 1386.10,131.80 1380.60,126.30"/>
<polygon points="1401.10,120.80 1406.60,126.30 1401.10,131.80 1395.60,126.30"/>
<polygon points="1416.10,128.40 1421.60,133.90 1416.10,139.40 1410.60,133.90"/>
<polygon points="1444.10,120.80 1449.60,126.30 1444.10,131.80 1438.60,126.30"/>
<polygon points="1487.50,145.20 1493.00,150.70 1487.50,156.20 1482.00,150.70"/>
<polygon points="1545.30,249.60 1550.80,255.10 1545.30,260.60 1539.80,255.10"/>
<polygon points="1558.80,275.60 1564.30,281.10 1558.80,286.60 1553.30,281.10"/>
<polygon points="1572.50,294.40 1578.00,299.90 1572.50,305.40 1567.00,299.90"/>
<polygon points="1588.00,315.60 1593.50,321.10 1588.00,326.60 1582.50,321.10"/>
<polygon points="1600.50,335.00 1606.00,340.50 1600.50,346.00 1595.00,340.50"/>
<polygon points="1616.60,351.40 1622.10,356.90 1616.60,362.40 1611.10,356.90"/>
<polygon points="1629.80,364.50 1635.30,370.00 1629.80,375.50 1624.30,370.00"/>
<polygon points="1659.60,379.50 1665.10,385.00 1659.60,390.50 1654.10,385.00"/>
<polygon points="1673.60,383.00 1679.10,388.50 1673.60,394.00 1668.10,388.50"/>
<polygon points="1687.60,386.60 1693.10,392.10 1687.60,397.60 1682.10,392.10"/>
</g>
<path d="M1301.7,92.6V408a9.6,9.6 0 0 0 9.6,9.6H1720.1a9.6,9.6 0 0 0 9.6,-9.6V94" fill="none" stroke="#270e10" stroke-width="5.8" stroke-linecap="round"/>
<path d="M1444.1,418V427" stroke="#270e10" stroke-width="1.8"/>
<path d="M1587.4,418V427" stroke="#270e10" stroke-width="1.8"/>
<text font-weight="bold" fill="#000" stroke="#000" stroke-width="0.32" stroke-linejoin="round"><tspan x="1294.20" y="447.20" font-size="24.79" textLength="15.44" lengthAdjust="spacingAndGlyphs">0</tspan></text>
<text font-weight="bold" fill="#000" stroke="#000" stroke-width="0.32" stroke-linejoin="round"><tspan x="1423.49" y="447.20" font-size="24.79" textLength="42.55" lengthAdjust="spacingAndGlyphs">100</tspan></text>
<text font-weight="bold" fill="#000" stroke="#000" stroke-width="0.32" stroke-linejoin="round"><tspan x="1567.74" y="447.20" font-size="24.79" textLength="41.59" lengthAdjust="spacingAndGlyphs">200</tspan></text>
<text font-weight="bold" fill="#000" stroke="#000" stroke-width="0.32" stroke-linejoin="round"><tspan x="1711.64" y="447.20" font-size="24.79" textLength="40.87" lengthAdjust="spacingAndGlyphs">300</tspan></text>
<text font-weight="bold" fill="#000" stroke="#000" stroke-width="0.38" stroke-linejoin="round"><tspan x="1420.49" y="481.20" font-size="29.51" textLength="192.56" lengthAdjust="spacingAndGlyphs">Temperature/K</tspan></text>
<text transform="translate(1284.20,0) rotate(-90)" font-weight="bold" fill="#000" stroke="#000" stroke-width="0.39" stroke-linejoin="round"><tspan x="-391.71" y="0.00" font-size="29.94" textLength="39.81" lengthAdjust="spacingAndGlyphs">PL </tspan><tspan x="-354.42" y="0.00" font-size="29.94" textLength="179.07" lengthAdjust="spacingAndGlyphs">intensity/arb. </tspan><tspan x="-177.63" y="0.00" font-size="29.94" textLength="62.91" lengthAdjust="spacingAndGlyphs">units</tspan></text>
<text font-weight="bold" fill="#d4005f" stroke="#d4005f" stroke-width="0.30" stroke-linejoin="round"><tspan x="1356.00" y="109.80" font-size="23.11" textLength="34.52" lengthAdjust="spacingAndGlyphs">SD </tspan><tspan x="1389.92" y="109.80" font-size="23.11" textLength="102.29" lengthAdjust="spacingAndGlyphs">NBP:CdTe</tspan></text>
<text font-weight="bold" fill="#22c27a" stroke="#22c27a" stroke-width="0.30" stroke-linejoin="round"><tspan x="1327.93" y="213.50" font-size="22.82" textLength="41.91" lengthAdjust="spacingAndGlyphs">QD </tspan><tspan x="1368.12" y="213.50" font-size="22.82" textLength="113.28" lengthAdjust="spacingAndGlyphs">NBP:CdTe, </tspan><tspan x="1479.35" y="213.50" font-size="22.82" textLength="42.83" lengthAdjust="spacingAndGlyphs">nAg</tspan></text>
<text font-weight="bold" fill="#2b1ddf" stroke="#2b1ddf" stroke-width="0.30" stroke-linejoin="round"><tspan x="1377.11" y="308.00" font-size="22.97" textLength="33.89" lengthAdjust="spacingAndGlyphs">SD </tspan><tspan x="1410.61" y="308.00" font-size="22.97" textLength="114.47" lengthAdjust="spacingAndGlyphs">NBP:CdTe, </tspan><tspan x="1523.29" y="308.00" font-size="22.97" textLength="41.65" lengthAdjust="spacingAndGlyphs">nAg</tspan></text>
<circle cx="1272.5" cy="51.8" r="28.6" fill="#fff" stroke="#8f8f8f" stroke-width="5.6"/>
<text font-weight="normal" fill="#231f20" stroke="#231f20" stroke-width="0.9" stroke-linejoin="round"><tspan x="1261.80" y="61.30" font-size="36.57" textLength="21.15" lengthAdjust="spacingAndGlyphs">d</tspan></text>
</g>
<g id="panel-e">
<path d="M1322.50,786.80C1324.75,787.10 1331.42,788.20 1336.00,788.60C1340.58,789.00 1344.67,789.43 1350.00,789.20C1355.33,788.97 1362.17,788.32 1368.00,787.20C1373.83,786.08 1379.67,784.45 1385.00,782.50C1390.33,780.55 1395.00,778.25 1400.00,775.50C1405.00,772.75 1409.72,769.92 1415.00,766.00C1420.28,762.08 1426.70,756.83 1431.70,752.00C1436.70,747.17 1440.28,743.00 1445.00,737.00C1449.72,731.00 1455.00,723.67 1460.00,716.00C1465.00,708.33 1470.00,699.50 1475.00,691.00C1480.00,682.50 1485.33,672.83 1490.00,665.00C1494.67,657.17 1498.60,650.52 1503.00,644.00C1507.40,637.48 1514.17,628.92 1516.40,625.90" fill="none" stroke="#22c27a" stroke-width="2.1" stroke-dasharray="6 5.2"/>
<path d="M1325.50,872.50C1337.92,872.50 1377.58,872.53 1400.00,872.50C1422.42,872.47 1445.83,872.48 1460.00,872.30C1474.17,872.12 1477.50,872.08 1485.00,871.40C1492.50,870.72 1497.50,869.77 1505.00,868.20C1512.50,866.63 1520.83,864.45 1530.00,862.00C1539.17,859.55 1548.33,857.08 1560.00,853.50C1571.67,849.92 1586.67,845.32 1600.00,840.50C1613.33,835.68 1626.67,829.75 1640.00,824.60C1653.33,819.45 1668.18,814.08 1680.00,809.60C1691.82,805.12 1705.75,799.68 1710.90,797.70" fill="none" stroke="#6b40c6" stroke-width="2.1" stroke-dasharray="6 5.2"/>
<g fill="#22c27a">
<rect x="1346.2" y="782.8" width="8.0" height="8.0"/>
<rect x="1364.7" y="772.4" width="8.0" height="8.0"/>
<rect x="1372.8" y="776.3" width="8.0" height="8.0"/>
<rect x="1390.4" y="772.4" width="8.0" height="8.0"/>
<rect x="1404.1" y="764.4" width="8.0" height="8.0"/>
<rect x="1427.7" y="749.0" width="8.0" height="8.0"/>
<rect x="1434.3" y="723.1" width="9.6" height="9.6"/>
<rect x="1448.3" y="720.3" width="8.0" height="8.0"/>
<rect x="1465.6" y="691.1" width="8.0" height="8.0"/>
<rect x="1482.3" y="656.5" width="8.0" height="8.0"/>
<rect x="1496.6" y="636.8" width="8.0" height="8.0"/>
</g>
<g fill="#6b40c6">
<circle cx="1349.6" cy="874.9" r="4.5"/>
<circle cx="1408.1" cy="874.9" r="4.5"/>
<circle cx="1452.6" cy="870.7" r="4.5"/>
<circle cx="1486.3" cy="875.2" r="4.5"/>
<circle cx="1515.5" cy="863.5" r="4.5"/>
<circle cx="1528.6" cy="859.0" r="4.5"/>
<circle cx="1591.9" cy="851.0" r="4.5"/>
<circle cx="1637.8" cy="829.8" r="4.5"/>
<circle cx="1663.8" cy="825.0" r="4.5"/>
<circle cx="1684.6" cy="802.7" r="4.5"/>
</g>
<path d="M1301.8,595.4V911.3a9.2,9.2 0 0 0 9.2,9.2H1720.5a9.2,9.2 0 0 0 9.2,-9.2V596.3" fill="none" stroke="#270e10" stroke-width="5.8" stroke-linecap="round"/>
<g stroke="#270e10" stroke-width="1.8">
<path d="M1294.1,622.3H1301"/>
<path d="M1294.1,679.6H1301"/>
<path d="M1294.1,740.2H1301"/>
<path d="M1294.1,797.9H1301"/>
<path d="M1294.1,858.4H1301"/>
<path d="M1372.5,921V929.3"/>
<path d="M1444.2,921V929.3"/>
<path d="M1515.8,921V929.3"/>
<path d="M1587.4,921V929.3"/>
<path d="M1659.0,921V929.3"/>
</g>
<text font-weight="bold" fill="#000" stroke="#000" stroke-width="0.32" stroke-linejoin="round"><tspan x="1262.69" y="630.00" font-size="24.93" textLength="28.43" lengthAdjust="spacingAndGlyphs">12</tspan></text>
<text font-weight="bold" fill="#000" stroke="#000" stroke-width="0.32" stroke-linejoin="round"><tspan x="1264.53" y="688.20" font-size="24.93" textLength="27.80" lengthAdjust="spacingAndGlyphs">10</tspan></text>
<text font-weight="bold" fill="#000" stroke="#000" stroke-width="0.32" stroke-linejoin="round"><tspan x="1277.07" y="748.80" font-size="24.93" textLength="14.53" lengthAdjust="spacingAndGlyphs">8</tspan></text>
<text font-weight="bold" fill="#000" stroke="#000" stroke-width="0.32" stroke-linejoin="round"><tspan x="1276.92" y="805.90" font-size="24.93" textLength="14.84" lengthAdjust="spacingAndGlyphs">6</tspan></text>
<text font-weight="bold" fill="#000" stroke="#000" stroke-width="0.32" stroke-linejoin="round"><tspan x="1276.81" y="866.40" font-size="24.93" textLength="14.33" lengthAdjust="spacingAndGlyphs">4</tspan></text>
<text font-weight="bold" fill="#000" stroke="#000" stroke-width="0.32" stroke-linejoin="round"><tspan x="1277.01" y="922.90" font-size="24.93" textLength="14.21" lengthAdjust="spacingAndGlyphs">2</tspan></text>
<text font-weight="bold" fill="#000" stroke="#000" stroke-width="0.32" stroke-linejoin="round"><tspan x="1294.32" y="949.00" font-size="24.79" textLength="15.20" lengthAdjust="spacingAndGlyphs">0</tspan></text>
<text font-weight="bold" fill="#000" stroke="#000" stroke-width="0.32" stroke-linejoin="round"><tspan x="1366.13" y="949.00" font-size="24.79" textLength="13.76" lengthAdjust="spacingAndGlyphs">3</tspan></text>
<text font-weight="bold" fill="#000" stroke="#000" stroke-width="0.32" stroke-linejoin="round"><tspan x="1437.63" y="949.00" font-size="24.79" textLength="14.73" lengthAdjust="spacingAndGlyphs">6</tspan></text>
<text font-weight="bold" fill="#000" stroke="#000" stroke-width="0.32" stroke-linejoin="round"><tspan x="1508.68" y="949.00" font-size="24.79" textLength="14.70" lengthAdjust="spacingAndGlyphs">9</tspan></text>
<text font-weight="bold" fill="#000" stroke="#000" stroke-width="0.32" stroke-linejoin="round"><tspan x="1575.48" y="949.00" font-size="24.79" textLength="26.89" lengthAdjust="spacingAndGlyphs">12</tspan></text>
<text font-weight="bold" fill="#000" stroke="#000" stroke-width="0.32" stroke-linejoin="round"><tspan x="1646.14" y="949.00" font-size="24.79" textLength="27.55" lengthAdjust="spacingAndGlyphs">15</tspan></text>
<text font-weight="bold" fill="#000" stroke="#000" stroke-width="0.32" stroke-linejoin="round"><tspan x="1717.74" y="949.00" font-size="24.79" textLength="27.63" lengthAdjust="spacingAndGlyphs">18</tspan></text>
<text font-weight="bold" fill="#000" stroke="#000" stroke-width="0.31" stroke-linejoin="round"><tspan x="1314.13" y="596.70" font-size="23.64" textLength="41.08" lengthAdjust="spacingAndGlyphs">x10</tspan><tspan x="1354.41" y="586.80" font-size="16.76" textLength="15.70" lengthAdjust="spacingAndGlyphs">-2</tspan></text>
<text transform="translate(1265.80,0) rotate(-90)" font-weight="bold" fill="#000" stroke="#000" stroke-width="0.39" stroke-linejoin="round"><tspan x="-841.01" y="0.00" font-size="30.38" textLength="138.31" lengthAdjust="spacingAndGlyphs">FWHM/eV</tspan></text>
<text font-weight="bold" fill="#000" stroke="#000" stroke-width="0.39" stroke-linejoin="round"><tspan x="1461.18" y="989.80" font-size="29.80" textLength="17.63" lengthAdjust="spacingAndGlyphs">T</tspan><tspan x="1482.33" y="975.40" font-size="16.86" textLength="27.97" lengthAdjust="spacingAndGlyphs">1/2</tspan><tspan x="1510.06" y="989.80" font-size="29.80" textLength="34.35" lengthAdjust="spacingAndGlyphs">/K</tspan><tspan x="1544.91" y="975.40" font-size="16.86" textLength="28.41" lengthAdjust="spacingAndGlyphs">1/2</tspan></text>
<text font-weight="bold" fill="#22c27a" stroke="#22c27a" stroke-width="0.36" stroke-linejoin="round"><tspan x="1419.86" y="646.30" font-size="27.91" textLength="45.31" lengthAdjust="spacingAndGlyphs">QD</tspan></text>
<text font-weight="bold" fill="#22c27a" stroke="#22c27a" stroke-width="0.38" stroke-linejoin="round"><tspan x="1519.72" y="658.80" font-size="29.07" textLength="14.74" lengthAdjust="spacingAndGlyphs">E</tspan><tspan x="1536.17" y="663.40" font-size="22.63" textLength="49.28" lengthAdjust="spacingAndGlyphs">phon</tspan><tspan x="1586.84" y="658.80" font-size="29.07" textLength="106.55" lengthAdjust="spacingAndGlyphs">=43meV</tspan></text>
<text font-weight="bold" fill="#22c27a" stroke="#22c27a" stroke-width="0.38" stroke-linejoin="round"><tspan x="1521.28" y="698.60" font-size="28.94" textLength="66.98" lengthAdjust="spacingAndGlyphs">S=40</tspan></text>
<text font-weight="bold" fill="#6b40c6" stroke="#6b40c6" stroke-width="0.49" stroke-linejoin="round"><tspan x="1651.94" y="792.20" font-size="37.88" textLength="21.34" lengthAdjust="spacingAndGlyphs">x</tspan></text>
<text font-weight="bold" fill="#6b40c6" stroke="#6b40c6" stroke-width="0.38" stroke-linejoin="round"><tspan x="1422.40" y="815.60" font-size="29.51" textLength="15.93" lengthAdjust="spacingAndGlyphs">E</tspan><tspan x="1439.16" y="820.20" font-size="22.63" textLength="49.49" lengthAdjust="spacingAndGlyphs">phon</tspan><tspan x="1489.63" y="815.60" font-size="29.51" textLength="107.06" lengthAdjust="spacingAndGlyphs">=17meV</tspan></text>
<text font-weight="bold" fill="#6b40c6" stroke="#6b40c6" stroke-width="0.38" stroke-linejoin="round"><tspan x="1423.70" y="850.40" font-size="29.08" textLength="73.11" lengthAdjust="spacingAndGlyphs">S=0.7</tspan></text>
<circle cx="1274.0" cy="551.6" r="28.6" fill="#fff" stroke="#8f8f8f" stroke-width="5.6"/>
<text font-weight="normal" fill="#231f20" stroke="#231f20" stroke-width="0.9" stroke-linejoin="round"><tspan x="1264.60" y="561.40" font-size="37.50" textLength="20.98" lengthAdjust="spacingAndGlyphs">e</tspan></text>
</g>
</svg>
</body>
</html>
